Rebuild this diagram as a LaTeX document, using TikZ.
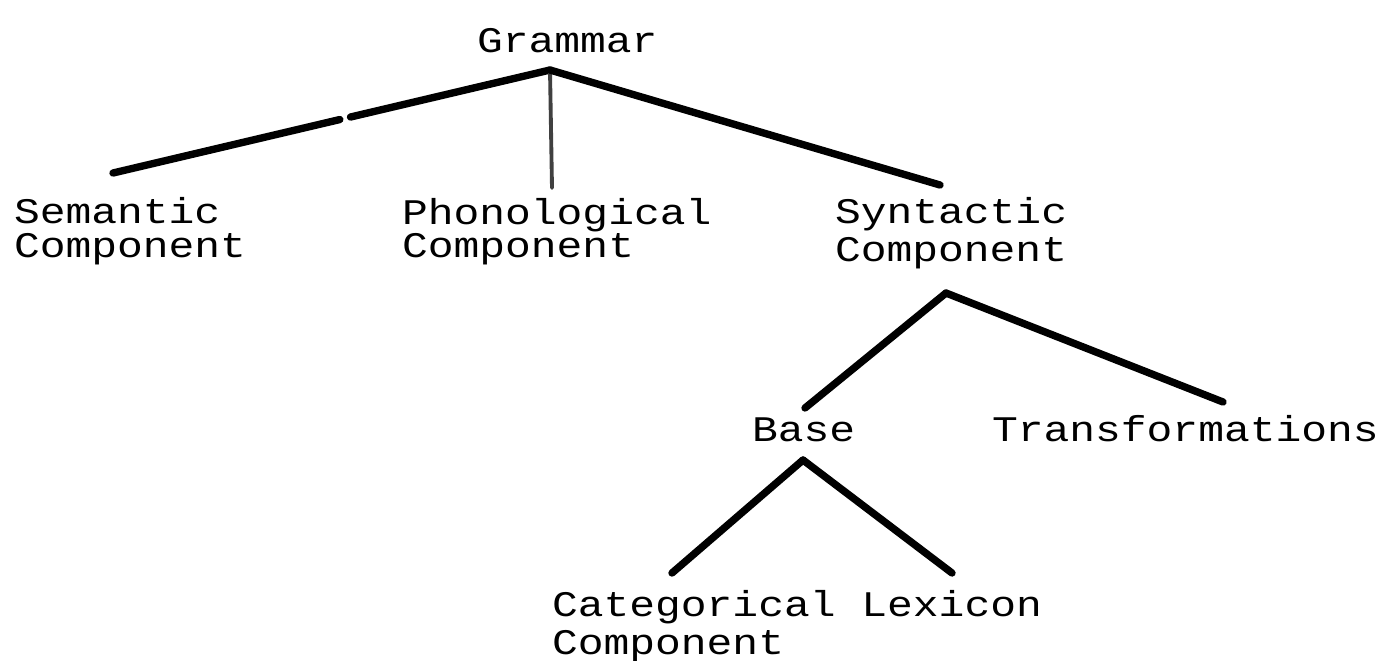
\documentclass[tikz,border=0pt]{standalone}
\usepackage{fontspec}
\newfontfamily\typew[FakeStretch=1.193]{Liberation Mono}
\begin{document}
\begin{tikzpicture}[x=0.02cm,y=-0.02cm,
  lbl/.style={anchor=base west,inner sep=0pt,outer sep=0pt,font=\typew\fontsize{20.5}{26}\selectfont},
  branch/.style={line width=4.2pt,line cap=round,black},
  thinbranch/.style={line width=2.2pt,line cap=round,black!75}]
\useasboundingbox (0,0) rectangle (1386,660);
% labels
\node[lbl] (gram) at (477,52) {Grammar};
\node[lbl] (sem1) at (14,223) {Semantic};
\node[lbl] (sem2) at (14,257) {Component};
\node[lbl] (pho1) at (402,224) {Phonological};
\node[lbl] (pho2) at (402,257) {Component};
\node[lbl] (syn1) at (835,223) {Syntactic};
\node[lbl] (syn2) at (835,261) {Component};
\node[lbl] (base) at (752,441) {Base};
\node[lbl] (trans) at (992,441) {Transformations};
\node[lbl] (cat1) at (552,616) {Categorical Lexicon};
\node[lbl] (cat2) at (552,654) {Component};
% connector points
\coordinate (gA) at (550,70);
\coordinate (semE) at (113,173);
\coordinate (phoE) at (552,188);
\coordinate (synE) at (940,185);
\coordinate (sA) at (946,293);
\coordinate (baseE) at (805,408);
\coordinate (transE) at (1223,402);
\coordinate (bA) at (803,460);
\coordinate (catE) at (672,573);
\coordinate (lexE) at (952,573);
% connectors
\draw[branch,dash pattern=on 4.1cm off 0.22cm on 8cm] (gA) -- (semE);
\draw[thinbranch] (gA) -- (phoE);
\draw[branch] (gA) -- (synE);
\draw[branch] (sA) -- (baseE);
\draw[branch] (sA) -- (transE);
\draw[branch] (bA) -- (catE);
\draw[branch] (bA) -- (lexE);
\end{tikzpicture}
\end{document}
